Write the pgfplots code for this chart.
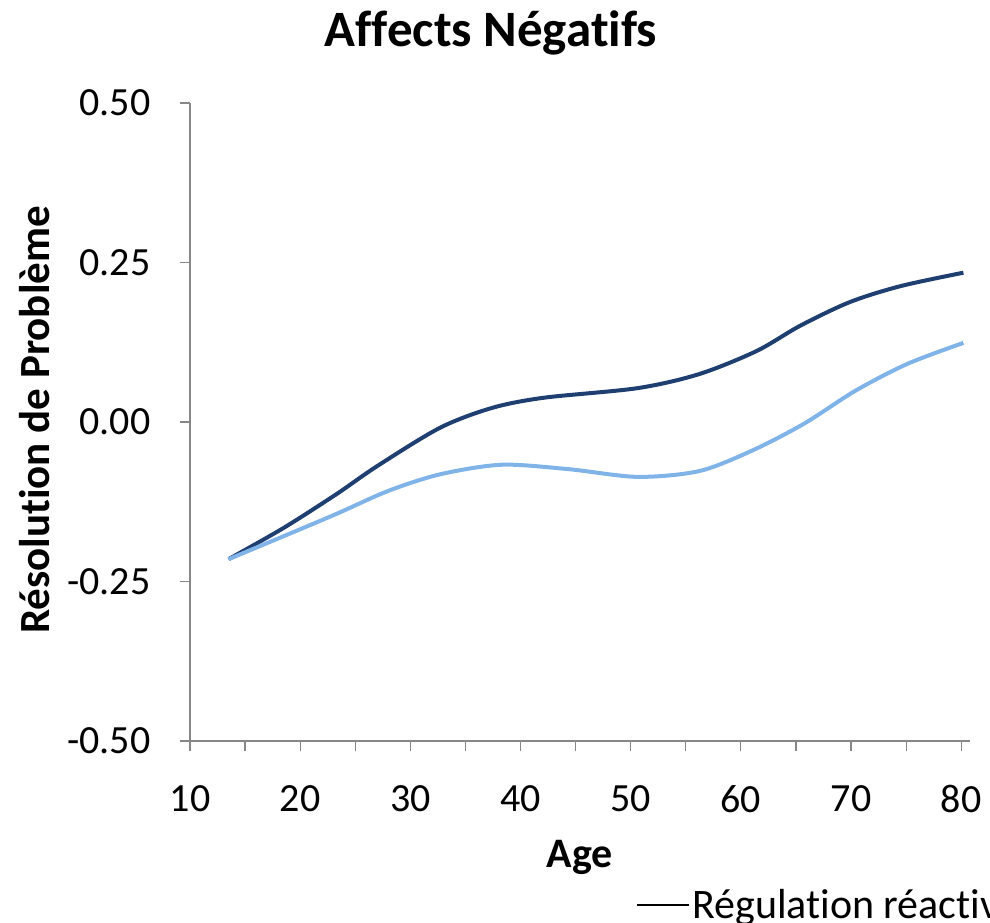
\documentclass[border=0pt]{standalone}
\usepackage{fontspec}
\setmainfont{Carlito}[Ligatures=NoCommon]
\usepackage{pgfplots}
\pgfplotsset{compat=1.18}
\definecolor{darkline}{HTML}{1F3F70}
\definecolor{lightline}{HTML}{80B3E8}
\definecolor{axgray}{HTML}{878787}
\begin{document}
\begin{tikzpicture}
\useasboundingbox (-190pt,-182pt) rectangle (800pt,741pt);
\begin{axis}[
  at={(0pt,0pt)}, anchor=south west,
  scale only axis,
  width=780pt, height=638pt,
  xmin=10, xmax=80.8,
  ymin=-0.5, ymax=0.5,
  axis x line=bottom, axis y line=left,
  axis line style={-, axgray, line width=1.2pt},
  xtick={10,20,30,40,50,60,70,80},
  minor xtick={15,25,35,45,55,65,75},
  ytick={-0.5,-0.25,0,0.25,0.5},
  yticklabels={-0.50,-0.25,0.00,0.25,0.50},
  tick align=outside,
  major tick length=10pt, minor tick length=10pt,
  every tick/.style={axgray, line width=1.2pt},
  every minor tick/.style={axgray, line width=1.2pt},
  tick label style={font=\fontsize{40}{48}\selectfont},
  /pgf/number format/assume math mode=true,
  xticklabel style={yshift=-31pt},
  yticklabel style={xshift=-26pt},
  title={Affects Négatifs},
  title style={font=\fontsize{51}{60}\selectfont\bfseries, at={(axis description cs:0.386,1.101)}, anchor=center},
  xlabel={Age},
  xlabel style={font=\fontsize{42}{50}\selectfont\bfseries, at={(axis description cs:0.5,-0.182)}, anchor=center},
  ylabel={Résolution de Problème},
  ylabel style={font=\fontsize{43}{52}\selectfont\bfseries, at={(axis description cs:-0.199,0.503)}, anchor=center},
  legend columns=2,
  legend style={draw=none, fill=none, at={(axis description cs:0.568,-0.257)}, anchor=west,
    font=\fontsize{42}{50}\selectfont, /tikz/every even column/.append style={column sep=30pt}},
  legend image code/.code={\draw[#1, line width=2pt, black] (0pt,0pt) -- (52pt,0pt);},
]
\addplot[darkline, line width=4pt, smooth] coordinates {
(13.5,-0.215) (18.5,-0.166) (23.3,-0.113) (27.0,-0.069) (32.7,-0.009) (37.4,0.022)
(42.1,0.038) (50.6,0.053) (56.2,0.075) (61.4,0.111) (65.4,0.151) (69.9,0.188)
(74.5,0.213) (80.2,0.234)
};
\addlegendentry{Régulation réactive}
\addplot[lightline, line width=4pt, smooth] coordinates {
(13.5,-0.215) (18.5,-0.179) (23.3,-0.144) (28.0,-0.108) (32.7,-0.082) (38.3,-0.067)
(44.4,-0.074) (50.6,-0.086) (56.2,-0.077) (61.0,-0.045) (65.7,-0.003) (70.4,0.049)
(75.1,0.091) (80.2,0.124)
};
\addlegendentry{Régulation proactive}
\end{axis}
\end{tikzpicture}
\end{document}
